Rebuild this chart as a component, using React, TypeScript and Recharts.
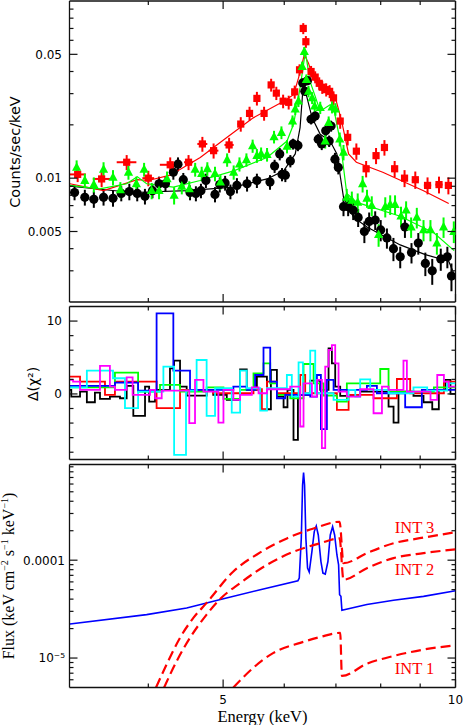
import React from 'react';
import { ComposedChart, Line, Scatter, XAxis, YAxis, ErrorBar, ReferenceLine, ReferenceDot } from 'recharts';

// ---------------- DATA ----------------
// Top panel: [energy keV, counts/s/keV, y-error, x-error]
const blackData: number[][] = [
  [3.21, 0.0083, 0.0008], [3.31, 0.0078, 0.0008], [3.40, 0.0076, 0.0008], [3.50, 0.0078, 0.0008],
  [3.60, 0.0077, 0.0008], [3.69, 0.0082, 0.0008], [3.78, 0.0084, 0.0009], [3.87, 0.0082, 0.0008],
  [3.96, 0.0079, 0.0008], [4.05, 0.0085, 0.0008], [4.13, 0.0093, 0.0009], [4.21, 0.0093, 0.0009],
  [4.31, 0.0108, 0.0010], [4.37, 0.0120, 0.0011], [4.44, 0.0098, 0.0009], [4.53, 0.0083, 0.0008],
  [4.61, 0.0082, 0.0008], [4.68, 0.0085, 0.0008], [4.75, 0.0097, 0.0009], [4.88, 0.0081, 0.0008],
  [4.95, 0.0092, 0.0009], [5.03, 0.0094, 0.0009], [5.11, 0.0084, 0.0008], [5.21, 0.0091, 0.0009],
  [5.37, 0.0093, 0.0009], [5.53, 0.0097, 0.0009], [5.75, 0.0095, 0.0009], [5.83, 0.0117, 0.0010],
  [5.92, 0.0137, 0.0011], [5.96, 0.0105, 0.0009], [6.02, 0.0104, 0.0009], [6.11, 0.0125, 0.0010],
  [6.16, 0.0156, 0.0011], [6.25, 0.0153, 0.0011], [6.34, 0.0345, 0.0020], [6.38, 0.0309, 0.0018],
  [6.43, 0.0355, 0.0020], [6.50, 0.0215, 0.0014], [6.58, 0.0224, 0.0015], [6.64, 0.0166, 0.0012],
  [6.71, 0.0156, 0.0012], [6.79, 0.0185, 0.0013], [6.86, 0.0162, 0.0012], [6.90, 0.0197, 0.0014],
  [6.98, 0.0128, 0.0011], [7.05, 0.0115, 0.0010], [7.16, 0.0069, 0.0008], [7.26, 0.0069, 0.0008],
  [7.37, 0.0066, 0.0008], [7.48, 0.0060, 0.0007], [7.62, 0.0050, 0.0007], [7.73, 0.0057, 0.0007],
  [7.87, 0.0058, 0.0007], [8.00, 0.0051, 0.0007], [8.15, 0.0046, 0.0006], [8.31, 0.0040, 0.0006],
  [8.48, 0.0036, 0.0005], [8.60, 0.0053, 0.0007], [8.77, 0.0038, 0.0005], [8.95, 0.0043, 0.0006],
  [9.14, 0.0033, 0.0005], [9.33, 0.0030, 0.0005], [9.57, 0.0035, 0.0005], [9.76, 0.0036, 0.0005],
  [9.88, 0.0028, 0.0005],
];

const redData: number[][] = [
  [3.24, 0.0105, 0.0010, 0.08], [3.48, 0.0099, 0.0010, 0.09], [3.75, 0.0123, 0.0012, 0.11],
  [4.00, 0.0100, 0.0010, 0.07], [4.27, 0.0119, 0.0012, 0.13], [4.51, 0.0123, 0.0012, 0.06],
  [4.70, 0.0156, 0.0015, 0.07], [4.86, 0.0143, 0.0014, 0.07], [5.09, 0.0154, 0.0015, 0.07],
  [5.27, 0.0202, 0.0019, 0.05], [5.41, 0.0232, 0.0021, 0.04], [5.53, 0.0282, 0.0025, 0.04],
  [5.65, 0.0232, 0.0021, 0.04], [5.77, 0.0336, 0.0028, 0.04], [5.86, 0.0302, 0.0026, 0.04],
  [5.98, 0.0272, 0.0024, 0.04], [6.08, 0.0268, 0.0024, 0.04], [6.19, 0.0307, 0.0026, 0.03],
  [6.28, 0.0409, 0.0030, 0.03], [6.35, 0.0700, 0.0050, 0.02], [6.40, 0.0589, 0.0045, 0.02],
  [6.50, 0.0400, 0.0030, 0.03], [6.58, 0.0372, 0.0029, 0.03], [6.66, 0.0343, 0.0028, 0.03],
  [6.72, 0.0326, 0.0027, 0.03], [6.80, 0.0316, 0.0027, 0.03], [6.87, 0.0309, 0.0026, 0.03],
  [6.95, 0.0284, 0.0025, 0.03], [7.09, 0.0210, 0.0020, 0.04], [7.25, 0.0170, 0.0017, 0.05],
  [7.44, 0.0142, 0.0015, 0.06], [7.66, 0.0113, 0.0012, 0.07], [7.89, 0.0134, 0.0014, 0.07],
  [8.09, 0.0149, 0.0015, 0.07], [8.34, 0.0113, 0.0012, 0.08], [8.59, 0.0100, 0.0011, 0.08],
  [8.87, 0.0098, 0.0011, 0.09], [9.20, 0.0091, 0.0010, 0.10], [9.52, 0.0092, 0.0010, 0.10],
  [9.79, 0.0091, 0.0010, 0.10],
];

const greenData: number[][] = [
  [3.23, 0.0115, 0.0011], [3.31, 0.0097, 0.0009], [3.40, 0.0092, 0.0009], [3.50, 0.0112, 0.0011],
  [3.60, 0.0101, 0.0010], [3.68, 0.0086, 0.0009], [3.77, 0.0108, 0.0010], [3.86, 0.0093, 0.0009],
  [3.95, 0.0112, 0.0010], [4.04, 0.0085, 0.0009], [4.13, 0.0085, 0.0009], [4.23, 0.0099, 0.0010],
  [4.32, 0.0080, 0.0009], [4.42, 0.0090, 0.0009], [4.52, 0.0087, 0.0009], [4.60, 0.0112, 0.0010],
  [4.69, 0.0106, 0.0010], [4.77, 0.0113, 0.0010], [4.88, 0.0106, 0.0010], [4.96, 0.0095, 0.0009],
  [5.06, 0.0127, 0.0011], [5.16, 0.0108, 0.0010], [5.25, 0.0120, 0.0011], [5.36, 0.0127, 0.0011],
  [5.46, 0.0152, 0.0013], [5.53, 0.0134, 0.0012], [5.60, 0.0137, 0.0012], [5.70, 0.0136, 0.0012],
  [5.82, 0.0171, 0.0014], [5.95, 0.0181, 0.0015], [6.05, 0.0151, 0.0013], [6.15, 0.0210, 0.0016],
  [6.20, 0.0245, 0.0018], [6.26, 0.0272, 0.0020], [6.33, 0.0427, 0.0028], [6.37, 0.0518, 0.0032],
  [6.41, 0.0360, 0.0025], [6.45, 0.0309, 0.0023], [6.52, 0.0284, 0.0022], [6.57, 0.0255, 0.0020],
  [6.68, 0.0250, 0.0020], [6.78, 0.0162, 0.0015], [6.85, 0.0206, 0.0017], [6.92, 0.0252, 0.0020],
  [6.99, 0.0245, 0.0020], [7.08, 0.0166, 0.0015], [7.16, 0.0140, 0.0014], [7.23, 0.0078, 0.0009],
  [7.34, 0.0075, 0.0009], [7.47, 0.0073, 0.0009], [7.58, 0.0093, 0.0010], [7.68, 0.0077, 0.0009],
  [7.79, 0.0070, 0.0009], [7.95, 0.0048, 0.0007], [8.11, 0.0069, 0.0009], [8.23, 0.0071, 0.0009],
  [8.35, 0.0071, 0.0009], [8.50, 0.0061, 0.0008], [8.63, 0.0066, 0.0008], [8.76, 0.0053, 0.0007],
  [8.91, 0.0060, 0.0008], [9.09, 0.0051, 0.0007], [9.28, 0.0051, 0.0007], [9.46, 0.0043, 0.0006],
  [9.65, 0.0053, 0.0007], [9.95, 0.0050, 0.0007],
];

// Model curves: [energy, counts/s/keV]
const blackModel: number[][] = [
  [3.166, 0.0090], [3.82, 0.0083], [4.49, 0.0085], [5.16, 0.0089], [5.70, 0.0099], [5.99, 0.0110],
  [6.20, 0.0137], [6.29, 0.0193], [6.35, 0.0337], [6.40, 0.0302], [6.52, 0.0219], [6.68, 0.0177],
  [6.88, 0.0162], [7.02, 0.0137], [7.16, 0.0078], [7.38, 0.0060], [7.68, 0.0053], [8.48, 0.0042],
  [9.14, 0.0037], [9.80, 0.0034], [9.95, 0.0029],
];
const redModel: number[][] = [
  [3.166, 0.0093], [3.50, 0.0085], [3.87, 0.0098], [4.00, 0.0097], [4.27, 0.0104], [4.56, 0.0123],
  [4.67, 0.0131], [5.06, 0.0170], [5.47, 0.0219], [5.99, 0.0272], [6.17, 0.0296], [6.26, 0.0367],
  [6.37, 0.0497], [6.45, 0.0446], [6.55, 0.0360], [6.68, 0.0330], [6.92, 0.0313], [6.99, 0.0284],
  [7.12, 0.0210], [7.27, 0.0137], [7.44, 0.0123], [8.05, 0.0108], [9.09, 0.0085], [9.80, 0.0072],
];
const greenModel: number[][] = [
  [3.166, 0.0091], [3.46, 0.0087], [3.75, 0.0093], [3.87, 0.0102], [3.98, 0.0093], [4.31, 0.0089],
  [4.67, 0.0097], [5.16, 0.0110], [5.70, 0.0131], [6.05, 0.0162], [6.17, 0.0202], [6.29, 0.0323],
  [6.39, 0.0518], [6.48, 0.0352], [6.68, 0.0239], [6.88, 0.0260], [6.95, 0.0250], [7.09, 0.0162],
  [7.23, 0.0082], [7.45, 0.0073], [8.48, 0.0061], [9.38, 0.0049], [9.96, 0.0039],
];

// Middle panel residuals: [bin start energy, delta chi^2]
const resBlack: number[][] = [
  [3.166, 0.55], [3.179, -0.37], [3.263, 0.32], [3.33, -1.14], [3.411, 0.18], [3.463, -0.68],
  [3.567, -0.37], [3.676, -0.59], [3.75, 1.1], [3.825, -3.0], [3.961, 1.0], [4.01, -1.05],
  [4.081, 0.55], [4.267, 3.5], [4.32, 4.57], [4.397, 1.0], [4.485, -0.23], [4.76, 0.55],
  [4.855, -0.14], [5.055, -0.82], [5.26, 3.38], [5.365, 0.55], [5.53, 2.37], [5.698, -2.1],
  [5.766, 3.29], [5.87, -0.37], [5.988, -1.83], [6.058, 0.55], [6.168, -6.3], [6.25, -0.14],
  [6.483, 1.83], [6.679, 0.55], [6.848, 6.26], [6.916, 4.2], [6.985, 1.0], [7.09, -0.27],
  [7.525, 0.32], [8.19, -1.74], [8.313, -3.93], [8.436, 0.32], [8.822, -0.27], [9.09, -1.14],
  [9.33, -2.1], [9.515, 0.55], [9.705, 1.92], [9.851, 0], [10, 0],
];
const resRed: number[][] = [
  [3.166, 2.37], [3.263, 1.69], [3.515, -0.14], [3.621, 1.69], [4.10, -1.96], [4.397, 0.55],
  [4.855, 0.09], [5.474, 0.64], [5.613, -2.1], [5.698, 1.69], [5.87, 0.09], [6.293, 2.6],
  [6.387, 0.09], [7.02, -2.19], [7.27, -0.14], [7.831, -0.59], [8.396, 2.05], [8.736, 0.09],
  [9.66, 1.69], [10, 1.69],
];
const resGreen: number[][] = [
  [3.166, 0.91], [3.621, 2.92], [3.88, 0.32], [4.142, 1.23], [4.397, 0.32], [4.76, 0.91],
  [5.005, -0.68], [5.26, 0.55], [5.474, 2.83], [5.64, 4.2], [5.754, 1.46], [5.87, -0.14],
  [6.107, -0.59], [6.355, 4.11], [6.549, 1.46], [6.746, -0.23], [7.02, -1.05], [7.232, 1.46],
  [7.989, 3.42], [8.19, 0.32], [9.375, 0.91], [10, 0.91],
];
const resBlue: number[][] = [
  [3.166, 1.1], [3.621, 1.55], [3.88, 0.46], [4.10, 11.05], [4.31, 3.2], [4.53, 0.55],
  [5.155, 1.0], [5.365, 0.55], [5.50, 2.6], [5.64, 6.35], [5.754, 1.7], [5.87, -0.59],
  [6.017, -0.14], [6.483, -0.37], [6.614, 2.6], [6.693, -4.84], [6.814, 1.92], [6.951, 0.55],
  [7.677, 1.1], [7.91, 0.09], [8.606, -1.83], [9.045, 0.55], [10, 0.55],
];
const resCyan: number[][] = [
  [3.166, 0.91], [3.33, 3.2], [3.60, 2.15], [3.731, -1.96], [3.88, 0.32], [4.184, 3.74],
  [4.32, -8.36], [4.476, 0.46], [4.62, 4.66], [4.76, -3.01], [4.881, 0.78], [5.13, -2.56],
  [5.26, 3.2], [5.365, 0.78], [5.585, -2.28], [5.698, 0.78], [6.047, 2.6], [6.137, -0.37],
  [6.262, 4.34], [6.343, 0.09], [6.483, 5.94], [6.581, 0.09], [6.951, -0.82], [7.27, 0.55],
  [7.416, -0.37], [7.525, 2.0], [7.754, 0.55], [8.19, 0.09], [8.822, 0.91], [9.19, 0.46],
  [9.754, 1.46], [10, 1.46],
];
const resMagenta: number[][] = [
  [3.166, 1.92], [3.196, 1.69], [3.263, 0.55], [3.463, 3.84], [3.567, 1.0], [3.621, 0.55],
  [3.75, 2.28], [3.817, -0.14], [4.02, 0.55], [4.081, -0.59], [4.163, 0.46], [4.52, -4.02],
  [4.598, 1.92], [4.715, 0.32], [4.93, -3.93], [5.005, 0.55], [5.155, -0.82], [5.26, -0.14],
  [5.447, 0.91], [5.557, 0.09], [5.698, 0.64], [6.107, 1.0], [6.293, -4.47], [6.355, 1.46],
  [6.516, -0.37], [6.614, 1.92], [6.713, -7.44], [6.78, 3.74], [6.848, 6.03], [6.916, 6.71],
  [6.985, 4.2], [7.055, 0.32], [7.232, -0.37], [7.525, 0.64], [7.831, -2.65], [8.03, 1.0],
  [8.19, 0.55], [8.562, 4.57], [8.65, 0.32], [9.282, -0.82], [9.47, 2.6], [9.66, 1.69],
  [9.80, 1.0], [10, 1.0],
];

// Bottom panel: [energy, flux]
const fluxTotal: number[][] = [
  [3.166, 2.23e-5], [3.98, 2.78e-5], [4.485, 3.25e-5], [5.005, 4.04e-5], [5.585, 4.99e-5],
  [6.25, 6.17e-5], [6.275, 6.56e-5], [6.313, 1.67e-4], [6.337, 5.83e-4], [6.356, 7.85e-4],
  [6.375, 5.83e-4], [6.40, 1.67e-4], [6.432, 8.29e-5], [6.464, 7.56e-5], [6.516, 1.22e-4],
  [6.562, 1.96e-4], [6.601, 2.23e-4], [6.641, 1.81e-4], [6.694, 9.69e-5], [6.734, 7.38e-5],
  [6.781, 7.21e-5], [6.835, 9.69e-5], [6.883, 1.81e-4], [6.931, 2.2e-4], [6.973, 1.81e-4],
  [7.021, 1.13e-4], [7.056, 8.97e-5], [7.077, 4.43e-5], [7.105, 4.27e-5], [7.126, 3.08e-5],
  [7.677, 3.52e-5], [8.313, 3.89e-5], [9.09, 4.27e-5], [10, 4.88e-5],
];
const fluxInt3: number[][] = [
  [4.093, 5.0e-6], [4.225, 8.63e-6], [4.397, 1.61e-5], [4.575, 2.57e-5], [4.76, 3.66e-5],
  [5.155, 7.67e-5], [5.585, 1.20e-4], [6.047, 1.67e-4], [6.549, 2.11e-4], [7.077, 2.47e-4],
  [7.16, 9.31e-5], [7.677, 1.18e-4], [8.313, 1.49e-4], [9.09, 1.70e-4], [10, 1.93e-4],
];
const fluxInt2: number[][] = [
  [4.193, 5.0e-6], [4.354, 9.33e-6], [4.53, 1.61e-5], [4.76, 2.78e-5], [4.955, 4.01e-5],
  [5.26, 5.83e-5], [5.698, 8.97e-5], [6.168, 1.22e-4], [6.679, 1.49e-4], [7.077, 1.67e-4],
  [7.16, 6.31e-5], [7.677, 8.29e-5], [8.313, 1.05e-4], [9.09, 1.18e-4], [10, 1.29e-4],
];
const fluxInt1: number[][] = [
  [5.155, 5.0e-6], [5.474, 7.98e-6], [5.81, 1.13e-5], [6.293, 1.43e-5], [6.679, 1.64e-5],
  [7.09, 1.81e-5], [7.126, 6.56e-6], [7.677, 8.75e-6], [8.313, 1.05e-5], [9.09, 1.22e-5],
  [10, 1.35e-5],
];
const intLabels: { text: string; e: number; v: number }[] = [
  { text: 'INT 3', e: 8.85, v: 2.18e-4 },
  { text: 'INT 2', e: 8.85, v: 8.16e-5 },
  { text: 'INT 1', e: 8.85, v: 7.86e-6 },
];

// Axes
const xDomain = [3.162, 10];
const xTicks = [4, 5, 6, 7, 8, 9, 10];
const xMajor = [5, 10];
const topDomain = [0.002, 0.1];
const topTicks = [0.003, 0.004, 0.005, 0.006, 0.007, 0.008, 0.009, 0.01, 0.02, 0.03, 0.04, 0.05, 0.06, 0.07, 0.08, 0.09];
const topLabels: [number, string][] = [[0.005, '0.005'], [0.01, '0.01'], [0.05, '0.05']];
const midDomain = [-9, 12];
const midTicks = [-8, -6, -4, -2, 0, 2, 4, 6, 8, 10];
const midLabels: [number, string][] = [[0, '0'], [10, '10']];
const botDomain = [5e-6, 9.5e-4];
const botTicks = [6e-6, 7e-6, 8e-6, 9e-6, 1e-5, 2e-5, 3e-5, 4e-5, 5e-5, 6e-5, 7e-5, 8e-5, 9e-5, 1e-4, 2e-4, 3e-4, 4e-4, 5e-4, 6e-4, 7e-4, 8e-4, 9e-4];
const botLabels: [number, string][] = [[1e-5, '10⁻⁵'], [1e-4, '0.0001']];

// ---------------- RENDERING ----------------
const AX = '#111';
const SANS = 'DejaVu Sans, sans-serif';
const SERIF = 'Liberation Serif, serif';
const PLOT_L = 69.5;
const PLOT_R = 455.5;
const PLOT_W = PLOT_R - PLOT_L;

const pts = (rows: number[][]) => rows.map((r) => ({ e: r[0], v: r[1], err: r[2], xerr: r[3] }));
const near = (a: number, b: number) => Math.abs(a - b) <= Math.abs(b) * 1e-6;
const findLabel = (list: [number, string][], v: number) => {
  const f = list.find(([k]) => near(v, k));
  return f ? f[1] : null;
};

const makeXTick = (plotH: number, labels: boolean) => (props: any) => {
  const { x, y, payload } = props;
  const v = payload.value;
  const major = xMajor.some((m) => near(v, m));
  const len = major ? 8 : 4;
  return (
    <g>
      <line x1={x} y1={y} x2={x} y2={y - len} stroke={AX} strokeWidth={1.2} />
      <line x1={x} y1={y - plotH} x2={x} y2={y - plotH + len} stroke={AX} strokeWidth={1.2} />
      {labels && major ? (
        <text x={x} y={y + 16} textAnchor="middle" fontSize={12} fontFamily={SANS} fill="#000">
          {String(v)}
        </text>
      ) : null}
    </g>
  );
};

const makeYTick = (labels: [number, string][], labelX: number) => (props: any) => {
  const { x, y, payload } = props;
  const lab = findLabel(labels, payload.value);
  const len = lab ? 8 : 4;
  return (
    <g>
      <line x1={x} y1={y} x2={x + len} y2={y} stroke={AX} strokeWidth={1.2} />
      <line x1={x + PLOT_W} y1={y} x2={x + PLOT_W - len} y2={y} stroke={AX} strokeWidth={1.2} />
      {lab ? (
        <text x={labelX} y={y} dy="0.36em" textAnchor="end" fontSize={12} fontFamily={SANS} fill="#000">
          {lab}
        </text>
      ) : null}
    </g>
  );
};

const circleShape = (p: any) => <circle cx={p.cx} cy={p.cy} r={4.6} fill="#000" />;
const squareShape = (p: any) => <rect x={p.cx - 3.6} y={p.cy - 3.6} width={7.2} height={7.2} fill="#ff0000" />;
const triShape = (p: any) => (
  <path d={`M${p.cx},${p.cy - 5.2}L${p.cx + 4.6},${p.cy + 3.4}L${p.cx - 4.6},${p.cy + 3.4}Z`} fill="#00ff00" />
);

const xAxisProps = {
  dataKey: 'e',
  type: 'number' as const,
  scale: 'log' as const,
  domain: xDomain,
  allowDataOverflow: true,
  ticks: xTicks,
  interval: 0 as const,
  tickSize: 0,
  tickMargin: 0,
  tickLine: false,
  axisLine: { stroke: AX, strokeWidth: 1.3 },
};

const frameLine = { stroke: AX, strokeWidth: 1.3 };

function TopPanel() {
  const plotH = 301;
  return (
    <ComposedChart width={463} height={304} margin={{ top: 1, right: 7.5, bottom: 0, left: 0 }}>
      <XAxis {...xAxisProps} height={2} tick={makeXTick(plotH, false)} />
      <YAxis
        type="number"
        scale="log"
        domain={topDomain}
        allowDataOverflow
        ticks={topTicks}
        interval={0}
        width={PLOT_L}
        tickSize={0}
        tickMargin={0}
        tickLine={false}
        axisLine={frameLine}
        tick={makeYTick(topLabels, 62)}
        label={{
          content: () => (
            <text x={15} y={152} transform="rotate(-90 15 152)" textAnchor="middle" dy="0.36em" fontSize={14.5} fontFamily={SANS} fill="#000">
              Counts/sec/keV
            </text>
          ),
        }}
      />
      <ReferenceLine y={0.1} {...frameLine} />
      <ReferenceLine x={10} {...frameLine} />
      <Scatter data={pts(blackData)} dataKey="v" shape={circleShape} isAnimationActive={false}>
        <ErrorBar dataKey="err" direction="y" width={0} stroke="#000" strokeWidth={2} />
      </Scatter>
      <Line data={pts(blackModel)} dataKey="v" stroke="#000" strokeWidth={1.2} dot={false} isAnimationActive={false} type="linear" />
      <Scatter data={pts(redData)} dataKey="v" shape={squareShape} isAnimationActive={false}>
        <ErrorBar dataKey="err" direction="y" width={0} stroke="#ff0000" strokeWidth={2} />
        <ErrorBar dataKey="xerr" direction="x" width={0} stroke="#ff0000" strokeWidth={2} />
      </Scatter>
      <Line data={pts(redModel)} dataKey="v" stroke="#ff0000" strokeWidth={1.2} dot={false} isAnimationActive={false} type="linear" />
      <Scatter data={pts(greenData)} dataKey="v" shape={triShape} isAnimationActive={false}>
        <ErrorBar dataKey="err" direction="y" width={0} stroke="#00ff00" strokeWidth={2} />
      </Scatter>
      <Line data={pts(greenModel)} dataKey="v" stroke="#00ff00" strokeWidth={1.2} dot={false} isAnimationActive={false} type="linear" />
    </ComposedChart>
  );
}

const resSeries: [number[][], string][] = [
  [resBlack, '#000000'],
  [resRed, '#ff0000'],
  [resGreen, '#00ff00'],
  [resBlue, '#0000ff'],
  [resCyan, '#00ffff'],
  [resMagenta, '#ff00ff'],
];

function MidPanel() {
  const plotH = 153;
  return (
    <ComposedChart width={463} height={157.5} margin={{ top: 2.5, right: 7.5, bottom: 0, left: 0 }}>
      <XAxis {...xAxisProps} height={2} tick={makeXTick(plotH, false)} />
      <YAxis
        type="number"
        domain={midDomain}
        allowDataOverflow
        ticks={midTicks}
        interval={0}
        width={PLOT_L}
        tickSize={0}
        tickMargin={0}
        tickLine={false}
        axisLine={frameLine}
        tick={makeYTick(midLabels, 62)}
        label={{
          content: () => (
            <text x={33} y={80} transform="rotate(-90 33 80)" textAnchor="middle" dy="0.36em" fontSize={14} fontFamily={SANS} fill="#000">
              Δ(χ²)
            </text>
          ),
        }}
      />
      <ReferenceLine y={12} {...frameLine} />
      <ReferenceLine x={10} {...frameLine} />
      {resSeries.map(([d, c], i) => (
        <Line key={i} data={pts(d)} dataKey="v" stroke={c} strokeWidth={1.8} dot={false} isAnimationActive={false} type="stepAfter" />
      ))}
    </ComposedChart>
  );
}

function BotPanel() {
  const plotH = 223;
  return (
    <ComposedChart width={463} height={263} margin={{ top: 2.5, right: 7.5, bottom: 0, left: 0 }}>
      <XAxis
        {...xAxisProps}
        height={37.5}
        tick={makeXTick(plotH, true)}
        label={{
          content: () => (
            <text x={262.5} y={254.5} textAnchor="middle" dy="0.36em" fontSize={16.5} fontFamily={SERIF} fill="#000">
              Energy (keV)
            </text>
          ),
        }}
      />
      <YAxis
        type="number"
        scale="log"
        domain={botDomain}
        allowDataOverflow
        ticks={botTicks}
        interval={0}
        width={PLOT_L}
        tickSize={0}
        tickMargin={0}
        tickLine={false}
        axisLine={frameLine}
        tick={makeYTick(botLabels, 65)}
        label={{
          content: () => (
            <text x={8} y={114} transform="rotate(-90 8 114)" textAnchor="middle" dy="0.36em" fontSize={16} fontFamily={SERIF} fill="#000">
              Flux (keV cm<tspan dy={-6} fontSize={10}>−2</tspan>
              <tspan dy={6}> s</tspan>
              <tspan dy={-6} fontSize={10}>−1</tspan>
              <tspan dy={6}> keV</tspan>
              <tspan dy={-6} fontSize={10}>−1</tspan>
              <tspan dy={6}>)</tspan>
            </text>
          ),
        }}
      />
      <ReferenceLine y={9.5e-4} {...frameLine} />
      <ReferenceLine x={10} {...frameLine} />
      <Line data={pts(fluxTotal)} dataKey="v" stroke="#0000ff" strokeWidth={1.6} dot={false} isAnimationActive={false} type="linear" />
      {[fluxInt3, fluxInt2, fluxInt1].map((d, i) => (
        <Line key={i} data={pts(d)} dataKey="v" stroke="#ff0000" strokeWidth={2.2} strokeDasharray="10 5" dot={false} isAnimationActive={false} type="monotone" />
      ))}
      {intLabels.map((l) => (
        <ReferenceDot
          key={l.text}
          x={l.e}
          y={l.v}
          r={0}
          fill="none"
          stroke="none"
          label={{ value: l.text, position: 'center', fill: '#ff0000', fontSize: 16.5, fontFamily: SERIF }}
        />
      ))}
    </ComposedChart>
  );
}

export default function App() {
  return (
    <div style={{ position: 'absolute', left: 0, top: 0, width: 463, height: 725, background: '#fff' }}>
      <div style={{ position: 'absolute', left: 0, top: 0 }}>
        <TopPanel />
      </div>
      <div style={{ position: 'absolute', left: 0, top: 304 }}>
        <MidPanel />
      </div>
      <div style={{ position: 'absolute', left: 0, top: 462 }}>
        <BotPanel />
      </div>
    </div>
  );
}
